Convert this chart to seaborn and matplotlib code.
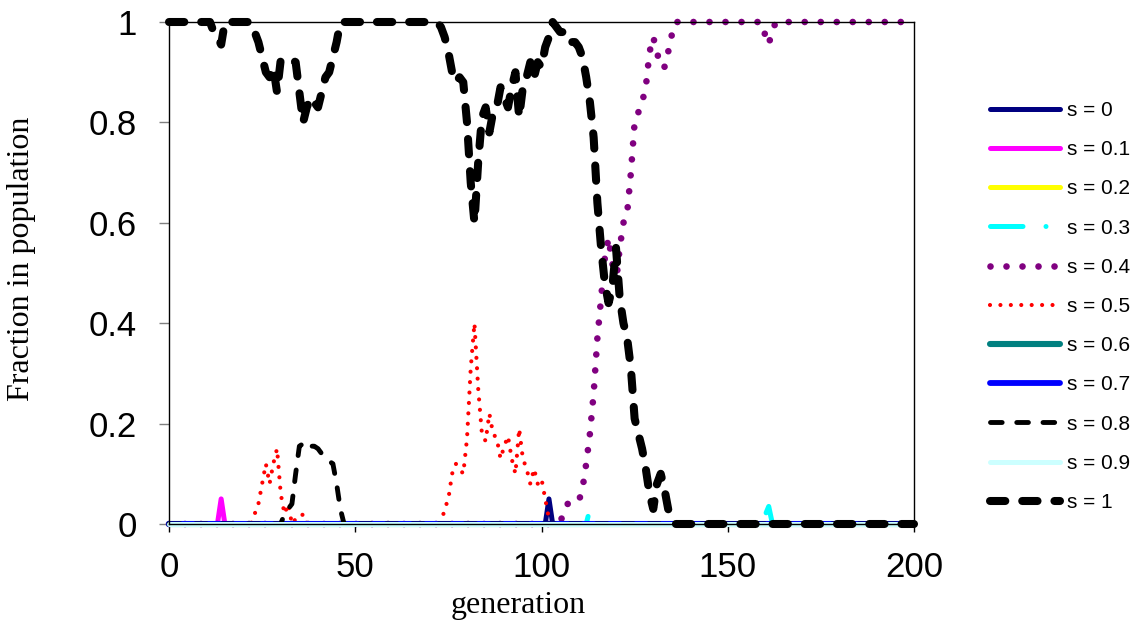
import matplotlib
matplotlib.use('Agg')
import matplotlib.pyplot as plt
import seaborn as sns

# series values (generation -> fraction)
s00_gen = [0, 101, 102, 103, 200]
s00_val = [0.0, 0.0, 0.05, 0.0, 0.0]

s01_gen = [0, 13, 14, 15, 200]
s01_val = [0.0, 0.0, 0.05, 0.0, 0.0]

s02_gen = [0, 200]
s02_val = [0.0, 0.0]

s03_gen = [0, 112, 113, 114, 159, 160, 161, 162, 200]
s03_val = [0.0, 0.0, 0.03, 0.0, 0.0, 0.017, 0.035, 0.0, 0.0]

s04_gen = [0, 30, 31, 32, 104] + list(range(105, 137)) + [159, 160, 161, 162, 163, 200]
s04_val = [0.0, 0.0, 0.01, 0.0, 0.0,
           0.005, 0.02, 0.04, 0.04, 0.04, 0.045, 0.07, 0.12, 0.18, 0.26,
           0.37, 0.45, 0.53, 0.57, 0.52, 0.48, 0.55, 0.60, 0.62, 0.70,
           0.80, 0.82, 0.84, 0.87, 0.94, 0.97, 0.94, 0.91, 0.91, 0.94,
           0.975, 1.0,
           1.0, 0.975, 0.955, 0.985, 1.0, 1.0]

s05_gen = [0, 22] + list(range(23, 38)) + [73] + list(range(74, 104)) + [200]
s05_val = [0.0, 0.0,
           0.02, 0.04, 0.08, 0.12, 0.08, 0.12, 0.15, 0.06, 0.02, 0.04,
           0.0, 0.01, 0.01, 0.02, 0.0,
           0.0,
           0.03, 0.05, 0.10, 0.12, 0.11, 0.10, 0.17, 0.31, 0.40, 0.27,
           0.18, 0.165, 0.22, 0.18, 0.17, 0.13, 0.155, 0.175, 0.13, 0.10,
           0.19, 0.13, 0.11, 0.08, 0.11, 0.08, 0.09, 0.05, 0.01, 0.0,
           0.0]

s06_gen = [0, 200]
s06_val = [0.0, 0.0]

s07_gen = [0, 200]
s07_val = [0.0, 0.0]

s08_gen = [0] + list(range(30, 48)) + [200]
s08_val = [0.0,
           0.0, 0.02, 0.03, 0.04, 0.10, 0.155, 0.16, 0.15, 0.155, 0.155,
           0.15, 0.14, 0.13, 0.125, 0.12, 0.08, 0.03, 0.0,
           0.0]

s09_gen = [0, 200]
s09_val = [0.0, 0.0]

s10_gen = [0, 11, 12, 13, 14, 15] + list(range(22, 47)) + list(range(72, 137)) + [200]
s10_val = [1.0, 1.0, 0.98, 0.97, 0.955, 1.0,
           1.0, 0.98, 0.96, 0.93, 0.90, 0.89, 0.91, 0.86, 0.925, 0.925,
           0.925, 0.925, 0.92, 0.86, 0.80, 0.83, 0.85, 0.84, 0.83, 0.86,
           0.89, 0.90, 0.93, 0.96, 1.0,
           1.0,
           0.99, 0.97, 0.94, 0.90, 0.88, 0.89, 0.88, 0.80, 0.68, 0.60,
           0.72, 0.81, 0.83, 0.78, 0.82, 0.83, 0.87, 0.85, 0.83, 0.87,
           0.90, 0.81, 0.87, 0.89, 0.92, 0.89, 0.92, 0.91, 0.95, 0.97,
           1.0, 0.99, 0.98, 0.98, 0.96, 0.96, 0.96, 0.95, 0.93, 0.89,
           0.84, 0.77, 0.64, 0.55, 0.48, 0.44, 0.47, 0.55, 0.45, 0.40,
           0.37, 0.31, 0.21, 0.18, 0.15, 0.11, 0.06, 0.03, 0.08, 0.10,
           0.07, 0.03, 0.01, 0.0,
           0.0]

labels = ['s = 0', 's = 0.1', 's = 0.2', 's = 0.3', 's = 0.4', 's = 0.5',
          's = 0.6', 's = 0.7', 's = 0.8', 's = 0.9', 's = 1']
x_ticks = [0, 50, 100, 150, 200]
y_ticks = [0, 0.2, 0.4, 0.6, 0.8, 1.0]
y_tick_labels = ['0', '0.2', '0.4', '0.6', '0.8', '1']

series = [
    (s00_gen, s00_val), (s01_gen, s01_val), (s02_gen, s02_val),
    (s03_gen, s03_val), (s04_gen, s04_val), (s05_gen, s05_val),
    (s06_gen, s06_val), (s07_gen, s07_val), (s08_gen, s08_val),
    (s09_gen, s09_val), (s10_gen, s10_val),
]

# colour, line width (pt), line style
styles = [
    ('#000080', 3.6, '-'),
    ('#FF00FF', 3.6, '-'),
    ('#FFFF00', 3.6, '-'),
    ('#00FFFF', 3.6, (0, (6.5, 4.6, 0.001, 4.6))),
    ('#800080', 4.8, (0, (0.001, 2.4))),
    ('#FF0000', 3.0, (0, (0.001, 2.5))),
    ('#008080', 4.4, '-'),
    ('#0000FF', 4.2, '-'),
    ('#000000', 3.5, (0, (2.4, 3.0))),
    ('#CCFFFF', 3.6, '-'),
    ('#000000', 5.8, (0, (1.9, 2.1))),
]

sns.set_style('ticks')
plt.rcParams['font.family'] = ['Liberation Sans', 'DejaVu Sans']
plt.rcParams['text.color'] = 'black'
plt.rcParams['axes.labelcolor'] = 'black'

fig = plt.figure(figsize=(11.41, 6.25), dpi=100)
ax = fig.add_axes([169 / 1141, 101 / 625, 745 / 1141, 502 / 625])

for (gen, val), (color, lw, ls), lab in zip(series, styles, labels):
    sns.lineplot(x=gen, y=val, ax=ax, color=color, linewidth=lw,
                 linestyle=ls, dash_capstyle='round',
                 solid_capstyle='round', solid_joinstyle='round',
                 dash_joinstyle='round', clip_on=False, errorbar=None,
                 label=lab)

ax.set_xlim(0, 200)
ax.set_ylim(0, 1)
ax.set_xticks(x_ticks)
ax.set_yticks(y_ticks)
ax.set_yticklabels(y_tick_labels)

for side in ['left', 'right', 'top', 'bottom']:
    ax.spines[side].set_visible(True)
    ax.spines[side].set_color('black')
    ax.spines[side].set_linewidth(1)

ax.tick_params(axis='y', direction='out', length=7, width=1,
               color='#808080', pad=16, labelsize=25, labelcolor='black')
ax.tick_params(axis='x', direction='out', length=6, width=1,
               color='black', pad=13.5, labelsize=25, labelcolor='black')

ax.set_ylabel('Fraction in population', family='Liberation Serif',
              fontsize=23, va='center')
ax.set_xlabel('generation', family='Liberation Serif', fontsize=23,
              va='center')
ax.yaxis.set_label_coords((22 - 169) / 745, (524 - 259) / 502)
ax.xaxis.set_label_coords((518 - 169) / 745, (524 - 605) / 502)

handles, labs = ax.get_legend_handles_labels()
ax.legend(handles, labs, loc='upper left',
          bbox_to_anchor=(990 / 1141, 1 - 101 / 625),
          bbox_transform=fig.transFigure, frameon=False, fontsize=15,
          handlelength=3.36, handletextpad=0.34, labelspacing=0.97,
          borderpad=0, borderaxespad=0)

fig.savefig('out.png', dpi=100)
